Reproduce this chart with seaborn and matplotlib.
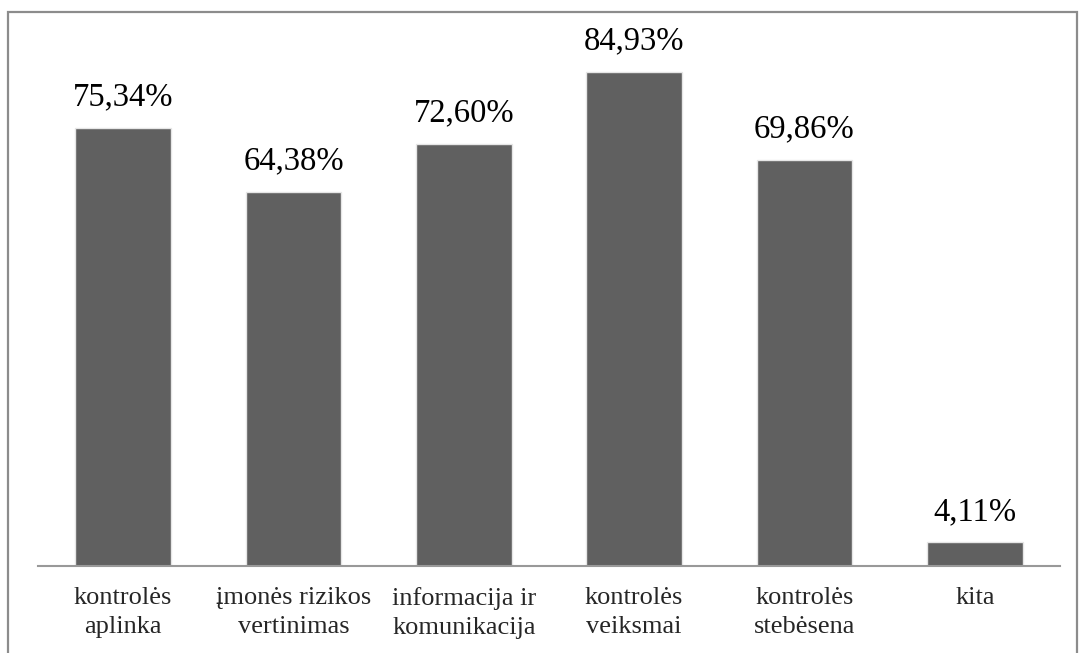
import numpy as np
import pandas as pd
import matplotlib.pyplot as plt
import seaborn as sns
from matplotlib.patches import Rectangle

categories = ["kontrolės\naplinka", "įmonės rizikos\nvertinimas", "informacija ir\nkomunikacija",
              "kontrolės\nveiksmai", "kontrolės\nstebėsena", "kita"]
values = [75.34, 64.38, 72.60, 84.93, 69.86, 4.11]
value_labels = ["75,34%", "64,38%", "72,60%", "84,93%", "69,86%", "4,11%"]

sns.set_theme(style="white")
plt.rcParams['font.family'] = ['Liberation Serif', 'DejaVu Serif']

df = pd.DataFrame({"cat": categories, "val": values})

W, H = 1080, 653
fig = plt.figure(figsize=(W / 100, H / 100), dpi=100)
ax = fig.add_axes([38 / W, 87 / H, (1060 - 38) / W, (566 - 42.5) / H])

sns.barplot(data=df, x="cat", y="val", color="#606060", width=0.56,
            saturation=1, edgecolor="#e6e6e6", linewidth=1, ax=ax)

ax.set_ylim(0, 90)
ax.set_xlim(-0.5, len(categories) - 0.5)
ax.set_xlabel("")
ax.set_ylabel("")
ax.set_yticks([])
for s in ["top", "right", "left"]:
    ax.spines[s].set_visible(False)
ax.spines["bottom"].set_color("#999999")
ax.spines["bottom"].set_linewidth(1.5)
ax.tick_params(axis="x", length=0, pad=15, labelsize=19)
for lbl in ax.get_xticklabels():
    lbl.set_linespacing(1.45)

for i, (v, t) in enumerate(zip(values, value_labels)):
    ax.annotate(t, (i, v), xytext=(0, 11), textcoords="offset points",
                ha="center", va="bottom", fontsize=23.5, color="black")

# outer frame (bottom edge cut off)
fig.patches.append(Rectangle((8 / W, -0.05), (1077 - 8) / W, (H - 12) / H + 0.05,
                             transform=fig.transFigure, fill=False,
                             edgecolor="#8c8c8c", linewidth=1.6, clip_on=False))

fig.savefig("out.png", dpi=100)
